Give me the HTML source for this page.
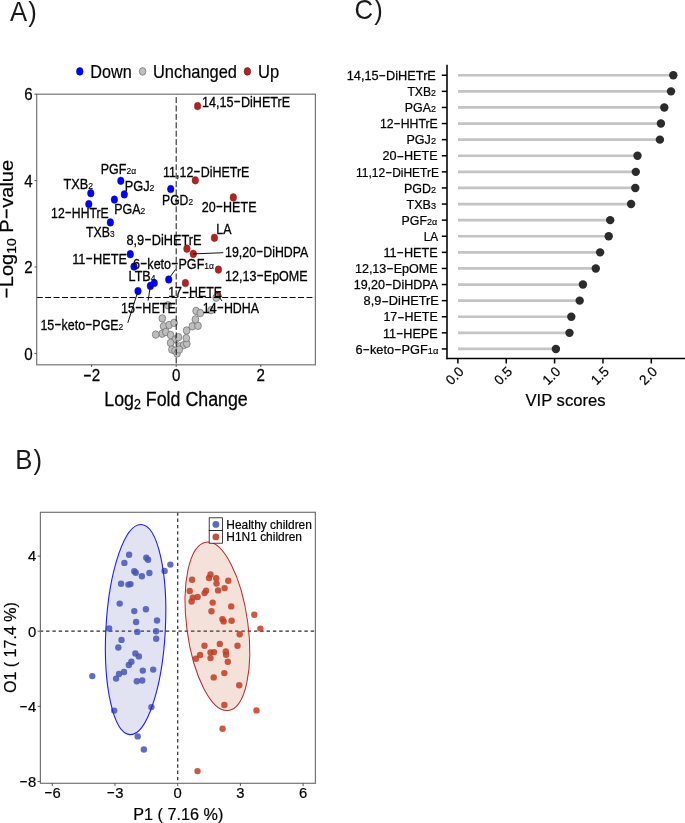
<!DOCTYPE html>
<html lang="en">
<head>
<meta charset="utf-8">
<title>Volcano plot, OPLS-DA score plot and VIP scores</title>
<style>
html,body{margin:0;padding:0;background:#fff;}
body{width:685px;height:823px;overflow:hidden;}
svg{display:block;font-family:'Liberation Sans', sans-serif;}
</style>
</head>
<body>
<svg width="685" height="823" viewBox="0 0 685 823" role="img" aria-label="Volcano plot, OPLS-DA score plot and VIP scores">
<rect x="0" y="0" width="685" height="823" fill="#ffffff"/>
<text transform="translate(10.10,20.80) scale(0.935,1.0)" font-size="27.5" text-anchor="start" fill="#1a1a1a">A<tspan dx="1.2">)</tspan></text>
<text transform="translate(15.30,468.60) scale(0.935,1.0)" font-size="27.5" text-anchor="start" fill="#1a1a1a">B<tspan dx="1.2">)</tspan></text>
<text transform="translate(354.60,18.90) scale(0.935,1.0)" font-size="27.5" text-anchor="start" fill="#1a1a1a">C<tspan dx="1.2">)</tspan></text>
<g id="panelA">
<rect x="36.7" y="94.2" width="278.70" height="270.60" fill="#fff" stroke="none"/>
<g stroke="#2a2a2a" stroke-width="0.4">
<ellipse cx="217.9" cy="295.6" rx="3.3" ry="3.85" fill="#b22222"/>
<ellipse cx="216.2" cy="297.7" rx="3.35" ry="3.75" fill="#bebebe" stroke="#6a6a6a" stroke-width="0.7"/>
<ellipse cx="211.0" cy="310.2" rx="3.35" ry="3.75" fill="#bebebe" stroke="#6a6a6a" stroke-width="0.7"/>
<ellipse cx="167.95" cy="305.25" rx="3.35" ry="3.75" fill="#bebebe" stroke="#6a6a6a" stroke-width="0.7"/>
<ellipse cx="162.3" cy="318.4" rx="3.35" ry="3.75" fill="#bebebe" stroke="#6a6a6a" stroke-width="0.7"/>
<ellipse cx="163.6" cy="326.3" rx="3.35" ry="3.75" fill="#bebebe" stroke="#6a6a6a" stroke-width="0.7"/>
<ellipse cx="162.1" cy="333.7" rx="3.35" ry="3.75" fill="#bebebe" stroke="#6a6a6a" stroke-width="0.7"/>
<ellipse cx="155.7" cy="334.6" rx="3.35" ry="3.75" fill="#bebebe" stroke="#6a6a6a" stroke-width="0.7"/>
<ellipse cx="169.1" cy="325.0" rx="3.35" ry="3.75" fill="#bebebe" stroke="#6a6a6a" stroke-width="0.7"/>
<ellipse cx="174.1" cy="322.8" rx="3.35" ry="3.75" fill="#bebebe" stroke="#6a6a6a" stroke-width="0.7"/>
<ellipse cx="165.8" cy="332.0" rx="3.35" ry="3.75" fill="#bebebe" stroke="#6a6a6a" stroke-width="0.7"/>
<ellipse cx="170.6" cy="335.0" rx="3.35" ry="3.75" fill="#bebebe" stroke="#6a6a6a" stroke-width="0.7"/>
<ellipse cx="175.4" cy="339.4" rx="3.35" ry="3.75" fill="#bebebe" stroke="#6a6a6a" stroke-width="0.7"/>
<ellipse cx="170.6" cy="342.9" rx="3.35" ry="3.75" fill="#bebebe" stroke="#6a6a6a" stroke-width="0.7"/>
<ellipse cx="171.9" cy="349.5" rx="3.35" ry="3.75" fill="#bebebe" stroke="#6a6a6a" stroke-width="0.7"/>
<ellipse cx="175.0" cy="350.8" rx="3.35" ry="3.75" fill="#bebebe" stroke="#6a6a6a" stroke-width="0.7"/>
<ellipse cx="177.1" cy="353.4" rx="3.35" ry="3.75" fill="#bebebe" stroke="#6a6a6a" stroke-width="0.7"/>
<ellipse cx="178.5" cy="337.2" rx="3.35" ry="3.75" fill="#bebebe" stroke="#6a6a6a" stroke-width="0.7"/>
<ellipse cx="179.8" cy="346.4" rx="3.35" ry="3.75" fill="#bebebe" stroke="#6a6a6a" stroke-width="0.7"/>
<ellipse cx="183.7" cy="345.1" rx="3.35" ry="3.75" fill="#bebebe" stroke="#6a6a6a" stroke-width="0.7"/>
<ellipse cx="186.8" cy="343.8" rx="3.35" ry="3.75" fill="#bebebe" stroke="#6a6a6a" stroke-width="0.7"/>
<ellipse cx="186.3" cy="338.1" rx="3.35" ry="3.75" fill="#bebebe" stroke="#6a6a6a" stroke-width="0.7"/>
<ellipse cx="179.3" cy="349.5" rx="3.35" ry="3.75" fill="#bebebe" stroke="#6a6a6a" stroke-width="0.7"/>
<ellipse cx="186.6" cy="330.5" rx="3.35" ry="3.75" fill="#bebebe" stroke="#6a6a6a" stroke-width="0.7"/>
<ellipse cx="192.3" cy="326.3" rx="3.35" ry="3.75" fill="#bebebe" stroke="#6a6a6a" stroke-width="0.7"/>
<ellipse cx="198.0" cy="325.8" rx="3.35" ry="3.75" fill="#bebebe" stroke="#6a6a6a" stroke-width="0.7"/>
<ellipse cx="195.4" cy="319.4" rx="3.35" ry="3.75" fill="#bebebe" stroke="#6a6a6a" stroke-width="0.7"/>
<ellipse cx="196.1" cy="310.9" rx="3.35" ry="3.75" fill="#bebebe" stroke="#6a6a6a" stroke-width="0.7"/>
<ellipse cx="200.35" cy="313.1" rx="3.35" ry="3.75" fill="#bebebe" stroke="#6a6a6a" stroke-width="0.7"/>
<ellipse cx="90.8" cy="193.2" rx="3.3" ry="3.85" fill="#0000ff" stroke="#0000c0"/>
<ellipse cx="88.8" cy="204.1" rx="3.3" ry="3.85" fill="#0000ff" stroke="#0000c0"/>
<ellipse cx="120.8" cy="180.8" rx="3.3" ry="3.85" fill="#0000ff" stroke="#0000c0"/>
<ellipse cx="124.3" cy="194.4" rx="3.3" ry="3.85" fill="#0000ff" stroke="#0000c0"/>
<ellipse cx="114.4" cy="199.6" rx="3.3" ry="3.85" fill="#0000ff" stroke="#0000c0"/>
<ellipse cx="170.7" cy="189" rx="3.3" ry="3.85" fill="#0000ff" stroke="#0000c0"/>
<ellipse cx="110.4" cy="222.4" rx="3.3" ry="3.85" fill="#0000ff" stroke="#0000c0"/>
<ellipse cx="130.3" cy="254.2" rx="3.3" ry="3.85" fill="#0000ff" stroke="#0000c0"/>
<ellipse cx="134" cy="266.6" rx="3.3" ry="3.85" fill="#0000ff" stroke="#0000c0"/>
<ellipse cx="154.3" cy="283" rx="3.3" ry="3.85" fill="#0000ff" stroke="#0000c0"/>
<ellipse cx="150.4" cy="285.9" rx="3.3" ry="3.85" fill="#0000ff" stroke="#0000c0"/>
<ellipse cx="138" cy="291.1" rx="3.3" ry="3.85" fill="#0000ff" stroke="#0000c0"/>
<ellipse cx="168.7" cy="279.5" rx="3.3" ry="3.85" fill="#0000ff" stroke="#0000c0"/>
<ellipse cx="197.6" cy="106.1" rx="3.3" ry="3.85" fill="#b22222" stroke="#7a1a1a"/>
<ellipse cx="195.3" cy="180.3" rx="3.3" ry="3.85" fill="#b22222" stroke="#7a1a1a"/>
<ellipse cx="233.3" cy="197.4" rx="3.3" ry="3.85" fill="#b22222" stroke="#7a1a1a"/>
<ellipse cx="214.4" cy="237.8" rx="3.3" ry="3.85" fill="#b22222" stroke="#7a1a1a"/>
<ellipse cx="186.9" cy="248.7" rx="3.3" ry="3.85" fill="#b22222" stroke="#7a1a1a"/>
<ellipse cx="193.3" cy="253.9" rx="3.3" ry="3.85" fill="#b22222" stroke="#7a1a1a"/>
<ellipse cx="218.4" cy="269.6" rx="3.3" ry="3.85" fill="#b22222" stroke="#7a1a1a"/>
<ellipse cx="185.4" cy="283" rx="3.3" ry="3.85" fill="#b22222" stroke="#7a1a1a"/>
</g>
<line x1="36.7" x2="315.4" y1="297.5" y2="297.5" stroke="#0a0a0a" stroke-width="1.1" stroke-dasharray="6 2.43"/>
<line x1="176.2" x2="176.2" y1="94.2" y2="364.8" stroke="#0a0a0a" stroke-width="0.95" stroke-dasharray="6 2.4" stroke-dashoffset="5.5"/>
<line x1="193.3" y1="253.9" x2="223.3" y2="252.7" stroke="#111" stroke-width="1.0"/>
<line x1="170" y1="277" x2="175.5" y2="269.5" stroke="#111" stroke-width="1.0"/>
<line x1="150.4" y1="285.9" x2="148.1" y2="300.6" stroke="#111" stroke-width="1.0"/>
<line x1="138" y1="291.1" x2="127.8" y2="322.9" stroke="#111" stroke-width="1.0"/>
<line x1="217.9" y1="295.6" x2="222.1" y2="301.1" stroke="#111" stroke-width="1.0"/>
<text transform="translate(202.00,107.00) scale(0.8709,1)" font-size="14.5" fill="#000" stroke="#000" stroke-width="0.3">14,15<tspan textLength="8.47" lengthAdjust="spacingAndGlyphs" dy="-0.90">-</tspan><tspan dy="0.90">DiHETrE</tspan></text>
<text transform="translate(163.10,176.50) scale(0.8600,1)" font-size="14.5" fill="#000" stroke="#000" stroke-width="0.3">11,12<tspan textLength="8.47" lengthAdjust="spacingAndGlyphs" dy="-0.90">-</tspan><tspan dy="0.90">DiHETrE</tspan></text>
<text transform="translate(162.00,204.50) scale(0.8419,1)" font-size="14.5" fill="#000" stroke="#000" stroke-width="0.3">PGD<tspan font-size="68%" stroke-width="0.15">2</tspan></text>
<text transform="translate(201.80,212.10) scale(0.8650,1)" font-size="14.5" fill="#000" stroke="#000" stroke-width="0.3">20<tspan textLength="8.47" lengthAdjust="spacingAndGlyphs" dy="-0.90">-</tspan><tspan dy="0.90">HETE</tspan></text>
<text transform="translate(100.80,174.40) scale(0.8604,1)" font-size="14.5" fill="#000" stroke="#000" stroke-width="0.3">PGF<tspan font-size="68%" stroke-width="0.15">2α</tspan></text>
<text transform="translate(63.44,188.90) scale(0.8802,1)" font-size="14.5" fill="#000" stroke="#000" stroke-width="0.3">TXB<tspan font-size="68%" stroke-width="0.15">2</tspan></text>
<text transform="translate(124.70,190.70) scale(0.8814,1)" font-size="14.5" fill="#000" stroke="#000" stroke-width="0.3">PGJ<tspan font-size="68%" stroke-width="0.15">2</tspan></text>
<text transform="translate(114.20,214.10) scale(0.8608,1)" font-size="14.5" fill="#000" stroke="#000" stroke-width="0.3">PGA<tspan font-size="68%" stroke-width="0.15">2</tspan></text>
<text transform="translate(51.10,217.80) scale(0.8438,1)" font-size="14.5" fill="#000" stroke="#000" stroke-width="0.3">12<tspan textLength="8.47" lengthAdjust="spacingAndGlyphs" dy="-0.90">-</tspan><tspan dy="0.90">HHTrE</tspan></text>
<text transform="translate(86.00,236.90) scale(0.8488,1)" font-size="14.5" fill="#000" stroke="#000" stroke-width="0.3">TXB<tspan font-size="68%" stroke-width="0.15">3</tspan></text>
<text transform="translate(126.45,245.30) scale(0.8820,1)" font-size="14.5" fill="#000" stroke="#000" stroke-width="0.3">8,9<tspan textLength="8.47" lengthAdjust="spacingAndGlyphs" dy="-0.90">-</tspan><tspan dy="0.90">DiHETrE</tspan></text>
<text transform="translate(72.20,264.00) scale(0.8811,1)" font-size="14.5" fill="#000" stroke="#000" stroke-width="0.3">11<tspan textLength="8.47" lengthAdjust="spacingAndGlyphs" dy="-0.90">-</tspan><tspan dy="0.90">HETE</tspan></text>
<text transform="translate(133.00,268.60) scale(0.8683,1)" font-size="14.5" fill="#000" stroke="#000" stroke-width="0.3">6<tspan textLength="8.47" lengthAdjust="spacingAndGlyphs" dy="-0.90">-</tspan><tspan dy="0.90">keto</tspan><tspan textLength="8.47" lengthAdjust="spacingAndGlyphs" dy="-0.90">-</tspan><tspan dy="0.90">PGF</tspan><tspan font-size="68%" stroke-width="0.15">1α</tspan></text>
<text transform="translate(128.60,281.00) scale(0.8684,1)" font-size="14.5" fill="#000" stroke="#000" stroke-width="0.3">LTB<tspan font-size="68%" stroke-width="0.15">4</tspan></text>
<text transform="translate(121.10,312.90) scale(0.8650,1)" font-size="14.5" fill="#000" stroke="#000" stroke-width="0.3">15<tspan textLength="8.47" lengthAdjust="spacingAndGlyphs" dy="-0.90">-</tspan><tspan dy="0.90">HETE</tspan></text>
<text transform="translate(40.40,329.60) scale(0.8593,1)" font-size="14.5" fill="#000" stroke="#000" stroke-width="0.3">15<tspan textLength="8.47" lengthAdjust="spacingAndGlyphs" dy="-0.90">-</tspan><tspan dy="0.90">keto</tspan><tspan textLength="8.47" lengthAdjust="spacingAndGlyphs" dy="-0.90">-</tspan><tspan dy="0.90">PGE</tspan><tspan font-size="68%" stroke-width="0.15">2</tspan></text>
<text transform="translate(216.30,234.10) scale(0.8564,1)" font-size="14.5" fill="#000" stroke="#000" stroke-width="0.3">LA</text>
<text transform="translate(225.10,256.70) scale(0.8527,1)" font-size="14.5" fill="#000" stroke="#000" stroke-width="0.3">19,20<tspan textLength="8.47" lengthAdjust="spacingAndGlyphs" dy="-0.90">-</tspan><tspan dy="0.90">DiHDPA</tspan></text>
<text transform="translate(225.10,280.80) scale(0.8650,1)" font-size="14.5" fill="#000" stroke="#000" stroke-width="0.3">12,13<tspan textLength="8.47" lengthAdjust="spacingAndGlyphs" dy="-0.90">-</tspan><tspan dy="0.90">EpOME</tspan></text>
<text transform="translate(168.20,297.40) scale(0.8508,1)" font-size="14.5" fill="#000" stroke="#000" stroke-width="0.3">17<tspan textLength="8.47" lengthAdjust="spacingAndGlyphs" dy="-0.90">-</tspan><tspan dy="0.90">HETE</tspan></text>
<text transform="translate(202.80,313.10) scale(0.8575,1)" font-size="14.5" fill="#000" stroke="#000" stroke-width="0.3">14<tspan textLength="8.47" lengthAdjust="spacingAndGlyphs" dy="-0.90">-</tspan><tspan dy="0.90">HDHA</tspan></text>
<rect x="36.7" y="94.2" width="278.70" height="270.60" fill="none" stroke="#747474" stroke-width="1.2"/>
<line x1="34.5" x2="36.7" y1="353.40" y2="353.40" stroke="#444" stroke-width="0.9"/>
<text transform="translate(32.70,359.60) scale(0.87,1.0)" font-size="17.4" text-anchor="end" fill="#000" stroke="#000" stroke-width="0.25">0</text>
<line x1="34.5" x2="36.7" y1="267.00" y2="267.00" stroke="#444" stroke-width="0.9"/>
<text transform="translate(32.70,273.20) scale(0.87,1.0)" font-size="17.4" text-anchor="end" fill="#000" stroke="#000" stroke-width="0.25">2</text>
<line x1="34.5" x2="36.7" y1="180.60" y2="180.60" stroke="#444" stroke-width="0.9"/>
<text transform="translate(32.70,186.80) scale(0.87,1.0)" font-size="17.4" text-anchor="end" fill="#000" stroke="#000" stroke-width="0.25">4</text>
<line x1="34.5" x2="36.7" y1="94.20" y2="94.20" stroke="#444" stroke-width="0.9"/>
<text transform="translate(32.70,100.40) scale(0.87,1.0)" font-size="17.4" text-anchor="end" fill="#000" stroke="#000" stroke-width="0.25">6</text>
<line x1="91.60" x2="91.60" y1="364.8" y2="367.0" stroke="#444" stroke-width="0.9"/>
<text transform="translate(91.60,381.00) scale(0.87,1.0)" font-size="17.4" text-anchor="middle" fill="#000" stroke="#000" stroke-width="0.25"><tspan textLength="10.16" lengthAdjust="spacingAndGlyphs" dy="-1.08">-</tspan><tspan dy="1.08">2</tspan></text>
<line x1="176.20" x2="176.20" y1="364.8" y2="367.0" stroke="#444" stroke-width="0.9"/>
<text transform="translate(176.20,381.00) scale(0.87,1.0)" font-size="17.4" text-anchor="middle" fill="#000" stroke="#000" stroke-width="0.25">0</text>
<line x1="260.80" x2="260.80" y1="364.8" y2="367.0" stroke="#444" stroke-width="0.9"/>
<text transform="translate(260.80,381.00) scale(0.87,1.0)" font-size="17.4" text-anchor="middle" fill="#000" stroke="#000" stroke-width="0.25">2</text>
<text transform="translate(176.00,405.70) scale(0.89,1.0)" font-size="20" text-anchor="middle" fill="#000" stroke="#000" stroke-width="0.25">Log<tspan font-size="70%" dy="3.5">2</tspan><tspan dy="-3.5"> Fold Change</tspan></text>
<text transform="translate(13.30,229.40) rotate(-90) scale(1.0,0.88)" font-size="20" text-anchor="middle" fill="#000" stroke="#000" stroke-width="0.25"><tspan textLength="11.68" lengthAdjust="spacingAndGlyphs" dy="-1.24">-</tspan><tspan dy="1.24">Log</tspan><tspan font-size="70%" dy="3.5">10</tspan><tspan dy="-3.5"> P</tspan><tspan textLength="11.68" lengthAdjust="spacingAndGlyphs" dy="-1.24">-</tspan><tspan dy="1.24">value</tspan></text>
<ellipse cx="79.8" cy="71.4" rx="3.3" ry="3.85" fill="#0000ff" stroke="#0000c0" stroke-width="0.6"/>
<ellipse cx="142.6" cy="71.4" rx="3.3" ry="3.85" fill="#bebebe" stroke="#5a5a5a" stroke-width="0.6"/>
<ellipse cx="247.4" cy="71.4" rx="3.3" ry="3.85" fill="#b22222" stroke="#7a1a1a" stroke-width="0.6"/>
<text transform="translate(90.30,77.90) scale(0.89,1.0)" font-size="18.2" text-anchor="start" fill="#000" stroke="#000" stroke-width="0.2">Down</text>
<text transform="translate(153.00,77.90) scale(0.902,1.0)" font-size="18.2" text-anchor="start" fill="#000" stroke="#000" stroke-width="0.2">Unchanged</text>
<text transform="translate(258.00,77.90) scale(0.91,1.0)" font-size="18.2" text-anchor="start" fill="#000" stroke="#000" stroke-width="0.2">Up</text>
</g>
<g id="panelC">
<line x1="458.0" x2="673.3000000000001" y1="75.25" y2="75.25" stroke="#c4c4c4" stroke-width="2.7"/>
<circle cx="673.3000000000001" cy="75.25" r="4.2" fill="#2b2b2b"/>
<line x1="441.8" x2="447.0" y1="75.25" y2="75.25" stroke="#000" stroke-width="1.5"/>
<text transform="translate(346.70,79.95) scale(0.9602,1)" font-size="13.3" fill="#000" stroke="#000" stroke-width="0.25">14,15<tspan textLength="7.77" lengthAdjust="spacingAndGlyphs" dy="-0.82">-</tspan><tspan dy="0.82">DiHETrE</tspan></text>
<line x1="458.0" x2="671.0" y1="91.35" y2="91.35" stroke="#c4c4c4" stroke-width="2.7"/>
<circle cx="671.0" cy="91.35" r="4.2" fill="#2b2b2b"/>
<line x1="441.8" x2="447.0" y1="91.35" y2="91.35" stroke="#000" stroke-width="1.5"/>
<text transform="translate(407.40,96.05) scale(0.9152,1)" font-size="13.3" fill="#000" stroke="#000" stroke-width="0.25">TXB<tspan font-size="73%" stroke-width="0.18">2</tspan></text>
<line x1="458.0" x2="664.3000000000001" y1="107.45" y2="107.45" stroke="#c4c4c4" stroke-width="2.7"/>
<circle cx="664.3000000000001" cy="107.45" r="4.2" fill="#2b2b2b"/>
<line x1="441.8" x2="447.0" y1="107.45" y2="107.45" stroke="#000" stroke-width="1.5"/>
<text transform="translate(404.80,112.15) scale(0.9321,1)" font-size="13.3" fill="#000" stroke="#000" stroke-width="0.25">PGA<tspan font-size="73%" stroke-width="0.18">2</tspan></text>
<line x1="458.0" x2="660.9000000000001" y1="123.55" y2="123.55" stroke="#c4c4c4" stroke-width="2.7"/>
<circle cx="660.9000000000001" cy="123.55" r="4.2" fill="#2b2b2b"/>
<line x1="441.8" x2="447.0" y1="123.55" y2="123.55" stroke="#000" stroke-width="1.5"/>
<text transform="translate(379.90,128.25) scale(0.9220,1)" font-size="13.3" fill="#000" stroke="#000" stroke-width="0.25">12<tspan textLength="7.77" lengthAdjust="spacingAndGlyphs" dy="-0.82">-</tspan><tspan dy="0.82">HHTrE</tspan></text>
<line x1="458.0" x2="659.9000000000001" y1="139.65" y2="139.65" stroke="#c4c4c4" stroke-width="2.7"/>
<circle cx="659.9000000000001" cy="139.65" r="4.2" fill="#2b2b2b"/>
<line x1="441.8" x2="447.0" y1="139.65" y2="139.65" stroke="#000" stroke-width="1.5"/>
<text transform="translate(406.50,144.35) scale(0.9440,1)" font-size="13.3" fill="#000" stroke="#000" stroke-width="0.25">PGJ<tspan font-size="73%" stroke-width="0.18">2</tspan></text>
<line x1="458.0" x2="637.5" y1="155.75" y2="155.75" stroke="#c4c4c4" stroke-width="2.7"/>
<circle cx="637.5" cy="155.75" r="4.2" fill="#2b2b2b"/>
<line x1="441.8" x2="447.0" y1="155.75" y2="155.75" stroke="#000" stroke-width="1.5"/>
<text transform="translate(382.60,160.45) scale(0.9496,1)" font-size="13.3" fill="#000" stroke="#000" stroke-width="0.25">20<tspan textLength="7.77" lengthAdjust="spacingAndGlyphs" dy="-0.82">-</tspan><tspan dy="0.82">HETE</tspan></text>
<line x1="458.0" x2="635.8000000000001" y1="171.85" y2="171.85" stroke="#c4c4c4" stroke-width="2.7"/>
<circle cx="635.8000000000001" cy="171.85" r="4.2" fill="#2b2b2b"/>
<line x1="441.8" x2="447.0" y1="171.85" y2="171.85" stroke="#000" stroke-width="1.5"/>
<text transform="translate(356.10,176.55) scale(0.8999,1)" font-size="13.3" fill="#000" stroke="#000" stroke-width="0.25">11,12<tspan textLength="7.77" lengthAdjust="spacingAndGlyphs" dy="-0.82">-</tspan><tspan dy="0.82">DiHETrE</tspan></text>
<line x1="458.0" x2="635.3000000000001" y1="187.95" y2="187.95" stroke="#c4c4c4" stroke-width="2.7"/>
<circle cx="635.3000000000001" cy="187.95" r="4.2" fill="#2b2b2b"/>
<line x1="441.8" x2="447.0" y1="187.95" y2="187.95" stroke="#000" stroke-width="1.5"/>
<text transform="translate(403.90,192.65) scale(0.9385,1)" font-size="13.3" fill="#000" stroke="#000" stroke-width="0.25">PGD<tspan font-size="73%" stroke-width="0.18">2</tspan></text>
<line x1="458.0" x2="631.1" y1="204.05" y2="204.05" stroke="#c4c4c4" stroke-width="2.7"/>
<circle cx="631.1" cy="204.05" r="4.2" fill="#2b2b2b"/>
<line x1="441.8" x2="447.0" y1="204.05" y2="204.05" stroke="#000" stroke-width="1.5"/>
<text transform="translate(406.50,208.75) scale(0.9440,1)" font-size="13.3" fill="#000" stroke="#000" stroke-width="0.25">TXB<tspan font-size="73%" stroke-width="0.18">3</tspan></text>
<line x1="458.0" x2="610.2" y1="220.15" y2="220.15" stroke="#c4c4c4" stroke-width="2.7"/>
<circle cx="610.2" cy="220.15" r="4.2" fill="#2b2b2b"/>
<line x1="441.8" x2="447.0" y1="220.15" y2="220.15" stroke="#000" stroke-width="1.5"/>
<text transform="translate(401.60,224.85) scale(0.9285,1)" font-size="13.3" fill="#000" stroke="#000" stroke-width="0.25">PGF<tspan font-size="73%" stroke-width="0.18">2α</tspan></text>
<line x1="458.0" x2="608.7" y1="236.25" y2="236.25" stroke="#c4c4c4" stroke-width="2.7"/>
<circle cx="608.7" cy="236.25" r="4.2" fill="#2b2b2b"/>
<line x1="441.8" x2="447.0" y1="236.25" y2="236.25" stroke="#000" stroke-width="1.5"/>
<text transform="translate(423.70,240.95) scale(0.8851,1)" font-size="13.3" fill="#000" stroke="#000" stroke-width="0.25">LA</text>
<line x1="458.0" x2="600.1" y1="252.35" y2="252.35" stroke="#c4c4c4" stroke-width="2.7"/>
<circle cx="600.1" cy="252.35" r="4.2" fill="#2b2b2b"/>
<line x1="441.8" x2="447.0" y1="252.35" y2="252.35" stroke="#000" stroke-width="1.5"/>
<text transform="translate(383.40,257.05) scale(0.9520,1)" font-size="13.3" fill="#000" stroke="#000" stroke-width="0.25">11<tspan textLength="7.77" lengthAdjust="spacingAndGlyphs" dy="-0.82">-</tspan><tspan dy="0.82">HETE</tspan></text>
<line x1="458.0" x2="595.8000000000001" y1="268.45" y2="268.45" stroke="#c4c4c4" stroke-width="2.7"/>
<circle cx="595.8000000000001" cy="268.45" r="4.2" fill="#2b2b2b"/>
<line x1="441.8" x2="447.0" y1="268.45" y2="268.45" stroke="#000" stroke-width="1.5"/>
<text transform="translate(354.90,273.15) scale(0.9452,1)" font-size="13.3" fill="#000" stroke="#000" stroke-width="0.25">12,13<tspan textLength="7.77" lengthAdjust="spacingAndGlyphs" dy="-0.82">-</tspan><tspan dy="0.82">EpOME</tspan></text>
<line x1="458.0" x2="582.9000000000001" y1="284.55" y2="284.55" stroke="#c4c4c4" stroke-width="2.7"/>
<circle cx="582.9000000000001" cy="284.55" r="4.2" fill="#2b2b2b"/>
<line x1="441.8" x2="447.0" y1="284.55" y2="284.55" stroke="#000" stroke-width="1.5"/>
<text transform="translate(353.70,289.25) scale(0.9424,1)" font-size="13.3" fill="#000" stroke="#000" stroke-width="0.25">19,20<tspan textLength="7.77" lengthAdjust="spacingAndGlyphs" dy="-0.82">-</tspan><tspan dy="0.82">DiHDPA</tspan></text>
<line x1="458.0" x2="579.7" y1="300.65" y2="300.65" stroke="#c4c4c4" stroke-width="2.7"/>
<circle cx="579.7" cy="300.65" r="4.2" fill="#2b2b2b"/>
<line x1="441.8" x2="447.0" y1="300.65" y2="300.65" stroke="#000" stroke-width="1.5"/>
<text transform="translate(363.60,305.35) scale(0.9628,1)" font-size="13.3" fill="#000" stroke="#000" stroke-width="0.25">8,9<tspan textLength="7.77" lengthAdjust="spacingAndGlyphs" dy="-0.82">-</tspan><tspan dy="0.82">DiHETrE</tspan></text>
<line x1="458.0" x2="571.3000000000001" y1="316.75" y2="316.75" stroke="#c4c4c4" stroke-width="2.7"/>
<circle cx="571.3000000000001" cy="316.75" r="4.2" fill="#2b2b2b"/>
<line x1="441.8" x2="447.0" y1="316.75" y2="316.75" stroke="#000" stroke-width="1.5"/>
<text transform="translate(383.40,321.45) scale(0.9358,1)" font-size="13.3" fill="#000" stroke="#000" stroke-width="0.25">17<tspan textLength="7.77" lengthAdjust="spacingAndGlyphs" dy="-0.82">-</tspan><tspan dy="0.82">HETE</tspan></text>
<line x1="458.0" x2="569.5" y1="332.85" y2="332.85" stroke="#c4c4c4" stroke-width="2.7"/>
<circle cx="569.5" cy="332.85" r="4.2" fill="#2b2b2b"/>
<line x1="441.8" x2="447.0" y1="332.85" y2="332.85" stroke="#000" stroke-width="1.5"/>
<text transform="translate(382.90,337.55) scale(0.9484,1)" font-size="13.3" fill="#000" stroke="#000" stroke-width="0.25">11<tspan textLength="7.77" lengthAdjust="spacingAndGlyphs" dy="-0.82">-</tspan><tspan dy="0.82">HEPE</tspan></text>
<line x1="458.0" x2="555.9000000000001" y1="348.95" y2="348.95" stroke="#c4c4c4" stroke-width="2.7"/>
<circle cx="555.9000000000001" cy="348.95" r="4.2" fill="#2b2b2b"/>
<line x1="441.8" x2="447.0" y1="348.95" y2="348.95" stroke="#000" stroke-width="1.5"/>
<text transform="translate(355.40,353.65) scale(0.9607,1)" font-size="13.3" fill="#000" stroke="#000" stroke-width="0.25">6<tspan textLength="7.77" lengthAdjust="spacingAndGlyphs" dy="-0.82">-</tspan><tspan dy="0.82">keto</tspan><tspan textLength="7.77" lengthAdjust="spacingAndGlyphs" dy="-0.82">-</tspan><tspan dy="0.82">PGF</tspan><tspan font-size="73%" stroke-width="0.18">1α</tspan></text>
<line x1="447.0" x2="447.0" y1="64.8" y2="359.25" stroke="#000" stroke-width="1.55"/>
<line x1="446.25" x2="685" y1="358.5" y2="358.5" stroke="#000" stroke-width="1.55"/>
<line x1="457.90" x2="457.90" y1="358.5" y2="363.5" stroke="#000" stroke-width="1.5"/>
<text transform="translate(464.70,372.50) rotate(-45)" font-size="13.6" text-anchor="end" fill="#000" stroke="#000" stroke-width="0.2">0.0</text>
<line x1="506.25" x2="506.25" y1="358.5" y2="363.5" stroke="#000" stroke-width="1.5"/>
<text transform="translate(513.05,372.50) rotate(-45)" font-size="13.6" text-anchor="end" fill="#000" stroke="#000" stroke-width="0.2">0.5</text>
<line x1="554.60" x2="554.60" y1="358.5" y2="363.5" stroke="#000" stroke-width="1.5"/>
<text transform="translate(561.40,372.50) rotate(-45)" font-size="13.6" text-anchor="end" fill="#000" stroke="#000" stroke-width="0.2">1.0</text>
<line x1="602.95" x2="602.95" y1="358.5" y2="363.5" stroke="#000" stroke-width="1.5"/>
<text transform="translate(609.75,372.50) rotate(-45)" font-size="13.6" text-anchor="end" fill="#000" stroke="#000" stroke-width="0.2">1.5</text>
<line x1="651.30" x2="651.30" y1="358.5" y2="363.5" stroke="#000" stroke-width="1.5"/>
<text transform="translate(658.10,372.50) rotate(-45)" font-size="13.6" text-anchor="end" fill="#000" stroke="#000" stroke-width="0.2">2.0</text>
<text transform="translate(565.50,406.00)" font-size="16.6" text-anchor="middle" fill="#000" stroke="#000" stroke-width="0.2">VIP scores</text>
</g>
<g id="panelB">
<line x1="40.4" x2="315.4" y1="631.2" y2="631.2" stroke="#2b2b2b" stroke-width="1.3" stroke-dasharray="3.4 2.9" stroke-dashoffset="0.6"/>
<line x1="177.7" x2="177.7" y1="512.3" y2="783.3" stroke="#2b2b2b" stroke-width="1.2" stroke-dasharray="3.4 2.9"/>
<ellipse cx="135.6" cy="629.6" rx="29.7" ry="105.2" transform="rotate(3.1 135.6 629.6)" fill="#4c54b0" fill-opacity="0.17" stroke="none"/>
<ellipse cx="217.4" cy="626.3" rx="30.6" ry="84.9" transform="rotate(-7.6 217.4 626.3)" fill="#c0582c" fill-opacity="0.18" stroke="none"/>
<circle cx="129.1" cy="554.7" r="3.2" fill="#4555b5" fill-opacity="0.85"/>
<circle cx="124.4" cy="562.9" r="3.2" fill="#4555b5" fill-opacity="0.85"/>
<circle cx="146.3" cy="557.8" r="3.2" fill="#4555b5" fill-opacity="0.85"/>
<circle cx="148.1" cy="559.8" r="3.2" fill="#4555b5" fill-opacity="0.85"/>
<circle cx="170.4" cy="564.6" r="3.2" fill="#4555b5" fill-opacity="0.85"/>
<circle cx="164.6" cy="570.9" r="3.2" fill="#4555b5" fill-opacity="0.85"/>
<circle cx="134.3" cy="571.2" r="3.2" fill="#4555b5" fill-opacity="0.85"/>
<circle cx="135.7" cy="572.7" r="3.2" fill="#4555b5" fill-opacity="0.85"/>
<circle cx="141.9" cy="576.3" r="3.2" fill="#4555b5" fill-opacity="0.85"/>
<circle cx="149.4" cy="573" r="3.2" fill="#4555b5" fill-opacity="0.85"/>
<circle cx="121.1" cy="583.8" r="3.2" fill="#4555b5" fill-opacity="0.85"/>
<circle cx="128.4" cy="584.6" r="3.2" fill="#4555b5" fill-opacity="0.85"/>
<circle cx="130.5" cy="584.1" r="3.2" fill="#4555b5" fill-opacity="0.85"/>
<circle cx="119.7" cy="603.6" r="3.2" fill="#4555b5" fill-opacity="0.85"/>
<circle cx="134.3" cy="611.1" r="3.2" fill="#4555b5" fill-opacity="0.85"/>
<circle cx="145.9" cy="609.2" r="3.2" fill="#4555b5" fill-opacity="0.85"/>
<circle cx="136.1" cy="622" r="3.2" fill="#4555b5" fill-opacity="0.85"/>
<circle cx="157" cy="620.5" r="3.2" fill="#4555b5" fill-opacity="0.85"/>
<circle cx="109.1" cy="628.5" r="3.2" fill="#4555b5" fill-opacity="0.85"/>
<circle cx="137.3" cy="631.9" r="3.2" fill="#4555b5" fill-opacity="0.85"/>
<circle cx="156.1" cy="631.2" r="3.2" fill="#4555b5" fill-opacity="0.85"/>
<circle cx="156.2" cy="638.8" r="3.2" fill="#4555b5" fill-opacity="0.85"/>
<circle cx="121.5" cy="639.9" r="3.2" fill="#4555b5" fill-opacity="0.85"/>
<circle cx="118.3" cy="647.5" r="3.2" fill="#4555b5" fill-opacity="0.85"/>
<circle cx="135.4" cy="653.5" r="3.2" fill="#4555b5" fill-opacity="0.85"/>
<circle cx="138.9" cy="656.4" r="3.2" fill="#4555b5" fill-opacity="0.85"/>
<circle cx="131.4" cy="661.8" r="3.2" fill="#4555b5" fill-opacity="0.85"/>
<circle cx="128.8" cy="665" r="3.2" fill="#4555b5" fill-opacity="0.85"/>
<circle cx="142.8" cy="670.6" r="3.2" fill="#4555b5" fill-opacity="0.85"/>
<circle cx="153.2" cy="669.6" r="3.2" fill="#4555b5" fill-opacity="0.85"/>
<circle cx="124" cy="672" r="3.2" fill="#4555b5" fill-opacity="0.85"/>
<circle cx="119" cy="673.9" r="3.2" fill="#4555b5" fill-opacity="0.85"/>
<circle cx="116.1" cy="678.6" r="3.2" fill="#4555b5" fill-opacity="0.85"/>
<circle cx="92.3" cy="676.1" r="3.2" fill="#4555b5" fill-opacity="0.85"/>
<circle cx="136.8" cy="681.2" r="3.2" fill="#4555b5" fill-opacity="0.85"/>
<circle cx="142.2" cy="680.5" r="3.2" fill="#4555b5" fill-opacity="0.85"/>
<circle cx="151.4" cy="707.1" r="3.2" fill="#4555b5" fill-opacity="0.85"/>
<circle cx="114.2" cy="710.6" r="3.2" fill="#4555b5" fill-opacity="0.85"/>
<circle cx="137.7" cy="736.4" r="3.2" fill="#4555b5" fill-opacity="0.85"/>
<circle cx="143.9" cy="749.5" r="3.2" fill="#4555b5" fill-opacity="0.85"/>
<circle cx="192.1" cy="579.8" r="3.2" fill="#c23c22" fill-opacity="0.85"/>
<circle cx="210.5" cy="574.4" r="3.2" fill="#c23c22" fill-opacity="0.85"/>
<circle cx="209" cy="578" r="3.2" fill="#c23c22" fill-opacity="0.85"/>
<circle cx="216.2" cy="578.3" r="3.2" fill="#c23c22" fill-opacity="0.85"/>
<circle cx="216.5" cy="583.6" r="3.2" fill="#c23c22" fill-opacity="0.85"/>
<circle cx="228.3" cy="580.7" r="3.2" fill="#c23c22" fill-opacity="0.85"/>
<circle cx="224.6" cy="588.1" r="3.2" fill="#c23c22" fill-opacity="0.85"/>
<circle cx="218.1" cy="590.4" r="3.2" fill="#c23c22" fill-opacity="0.85"/>
<circle cx="206.1" cy="590.6" r="3.2" fill="#c23c22" fill-opacity="0.85"/>
<circle cx="204.6" cy="593.1" r="3.2" fill="#c23c22" fill-opacity="0.85"/>
<circle cx="189.7" cy="591" r="3.2" fill="#c23c22" fill-opacity="0.85"/>
<circle cx="197.6" cy="596.9" r="3.2" fill="#c23c22" fill-opacity="0.85"/>
<circle cx="192.8" cy="597.6" r="3.2" fill="#c23c22" fill-opacity="0.85"/>
<circle cx="191.6" cy="601.5" r="3.2" fill="#c23c22" fill-opacity="0.85"/>
<circle cx="212.7" cy="602.6" r="3.2" fill="#c23c22" fill-opacity="0.85"/>
<circle cx="231.2" cy="606.4" r="3.2" fill="#c23c22" fill-opacity="0.85"/>
<circle cx="211.5" cy="611.2" r="3.2" fill="#c23c22" fill-opacity="0.85"/>
<circle cx="222.4" cy="619.1" r="3.2" fill="#c23c22" fill-opacity="0.85"/>
<circle cx="223.6" cy="621.4" r="3.2" fill="#c23c22" fill-opacity="0.85"/>
<circle cx="231.6" cy="620.8" r="3.2" fill="#c23c22" fill-opacity="0.85"/>
<circle cx="254.3" cy="614.7" r="3.2" fill="#c23c22" fill-opacity="0.85"/>
<circle cx="260.4" cy="628.6" r="3.2" fill="#c23c22" fill-opacity="0.85"/>
<circle cx="239.7" cy="634.2" r="3.2" fill="#c23c22" fill-opacity="0.85"/>
<circle cx="237.5" cy="645.7" r="3.2" fill="#c23c22" fill-opacity="0.85"/>
<circle cx="219.8" cy="643.9" r="3.2" fill="#c23c22" fill-opacity="0.85"/>
<circle cx="204.5" cy="645.8" r="3.2" fill="#c23c22" fill-opacity="0.85"/>
<circle cx="200.1" cy="655" r="3.2" fill="#c23c22" fill-opacity="0.85"/>
<circle cx="195.9" cy="658.8" r="3.2" fill="#c23c22" fill-opacity="0.85"/>
<circle cx="210.5" cy="652.4" r="3.2" fill="#c23c22" fill-opacity="0.85"/>
<circle cx="214" cy="652.1" r="3.2" fill="#c23c22" fill-opacity="0.85"/>
<circle cx="210.5" cy="658.1" r="3.2" fill="#c23c22" fill-opacity="0.85"/>
<circle cx="225.8" cy="651.5" r="3.2" fill="#c23c22" fill-opacity="0.85"/>
<circle cx="226.1" cy="654.7" r="3.2" fill="#c23c22" fill-opacity="0.85"/>
<circle cx="227.8" cy="661.8" r="3.2" fill="#c23c22" fill-opacity="0.85"/>
<circle cx="224.3" cy="673.1" r="3.2" fill="#c23c22" fill-opacity="0.85"/>
<circle cx="213.7" cy="677.4" r="3.2" fill="#c23c22" fill-opacity="0.85"/>
<circle cx="239.2" cy="685.3" r="3.2" fill="#c23c22" fill-opacity="0.85"/>
<circle cx="224.3" cy="705" r="3.2" fill="#c23c22" fill-opacity="0.85"/>
<circle cx="256.5" cy="710.4" r="3.2" fill="#c23c22" fill-opacity="0.85"/>
<circle cx="222.6" cy="728.7" r="3.2" fill="#c23c22" fill-opacity="0.85"/>
<circle cx="197.5" cy="771.1" r="3.2" fill="#c23c22" fill-opacity="0.85"/>
<ellipse cx="135.6" cy="629.6" rx="29.7" ry="105.2" transform="rotate(3.1 135.6 629.6)" fill="none" stroke="#1c1cff" stroke-width="1.1"/>
<ellipse cx="217.4" cy="626.3" rx="30.6" ry="84.9" transform="rotate(-7.6 217.4 626.3)" fill="none" stroke="#b52a2a" stroke-width="1.0"/>
<rect x="40.4" y="512.3" width="275.00" height="271.00" fill="none" stroke="#747474" stroke-width="1.2"/>
<line x1="37.6" x2="40.4" y1="556.08" y2="556.08" stroke="#444" stroke-width="0.9"/>
<text transform="translate(36.20,561.38)" font-size="14.8" text-anchor="end" fill="#000" stroke="#000" stroke-width="0.2">4</text>
<line x1="37.6" x2="40.4" y1="631.20" y2="631.20" stroke="#444" stroke-width="0.9"/>
<text transform="translate(36.20,636.50)" font-size="14.8" text-anchor="end" fill="#000" stroke="#000" stroke-width="0.2">0</text>
<line x1="37.6" x2="40.4" y1="706.32" y2="706.32" stroke="#444" stroke-width="0.9"/>
<text transform="translate(36.20,711.62)" font-size="14.8" text-anchor="end" fill="#000" stroke="#000" stroke-width="0.2"><tspan textLength="8.64" lengthAdjust="spacingAndGlyphs" dy="-0.92">-</tspan><tspan dy="0.92">4</tspan></text>
<line x1="37.6" x2="40.4" y1="781.44" y2="781.44" stroke="#444" stroke-width="0.9"/>
<text transform="translate(36.20,786.74)" font-size="14.8" text-anchor="end" fill="#000" stroke="#000" stroke-width="0.2"><tspan textLength="8.64" lengthAdjust="spacingAndGlyphs" dy="-0.92">-</tspan><tspan dy="0.92">8</tspan></text>
<line x1="52.30" x2="52.30" y1="783.3" y2="786.0999999999999" stroke="#444" stroke-width="0.9"/>
<text transform="translate(52.30,798.30)" font-size="14.8" text-anchor="middle" fill="#000" stroke="#000" stroke-width="0.2"><tspan textLength="8.64" lengthAdjust="spacingAndGlyphs" dy="-0.92">-</tspan><tspan dy="0.92">6</tspan></text>
<line x1="115.00" x2="115.00" y1="783.3" y2="786.0999999999999" stroke="#444" stroke-width="0.9"/>
<text transform="translate(115.00,798.30)" font-size="14.8" text-anchor="middle" fill="#000" stroke="#000" stroke-width="0.2"><tspan textLength="8.64" lengthAdjust="spacingAndGlyphs" dy="-0.92">-</tspan><tspan dy="0.92">3</tspan></text>
<line x1="177.70" x2="177.70" y1="783.3" y2="786.0999999999999" stroke="#444" stroke-width="0.9"/>
<text transform="translate(177.70,798.30)" font-size="14.8" text-anchor="middle" fill="#000" stroke="#000" stroke-width="0.2">0</text>
<line x1="240.40" x2="240.40" y1="783.3" y2="786.0999999999999" stroke="#444" stroke-width="0.9"/>
<text transform="translate(240.40,798.30)" font-size="14.8" text-anchor="middle" fill="#000" stroke="#000" stroke-width="0.2">3</text>
<line x1="303.10" x2="303.10" y1="783.3" y2="786.0999999999999" stroke="#444" stroke-width="0.9"/>
<text transform="translate(303.10,798.30)" font-size="14.8" text-anchor="middle" fill="#000" stroke="#000" stroke-width="0.2">6</text>
<text transform="translate(178.30,819.80)" font-size="16.2" text-anchor="middle" fill="#000" stroke="#000" stroke-width="0.2">P1 ( 7.16 %)</text>
<text transform="translate(15.60,647.60) rotate(-90)" font-size="16.05" text-anchor="middle" fill="#000" stroke="#000" stroke-width="0.2">O1 ( 17.4 %)</text>
<rect x="209.2" y="517.8" width="13.4" height="12.7" fill="#fff" stroke="#111" stroke-width="0.8"/>
<rect x="209.2" y="530.5" width="13.4" height="12.7" fill="#fff" stroke="#111" stroke-width="0.8"/>
<circle cx="215.9" cy="524.4" r="3.4" fill="#5b6bc4"/>
<circle cx="215.9" cy="536.9" r="3.4" fill="#c8503c"/>
<text transform="translate(226.30,529.00)" font-size="11.95" text-anchor="start" fill="#000" stroke="#000" stroke-width="0.2">Healthy children</text>
<text transform="translate(226.30,541.40)" font-size="11.95" text-anchor="start" fill="#000" stroke="#000" stroke-width="0.2">H1N1 children</text>
</g>
</svg>
</body>
</html>
